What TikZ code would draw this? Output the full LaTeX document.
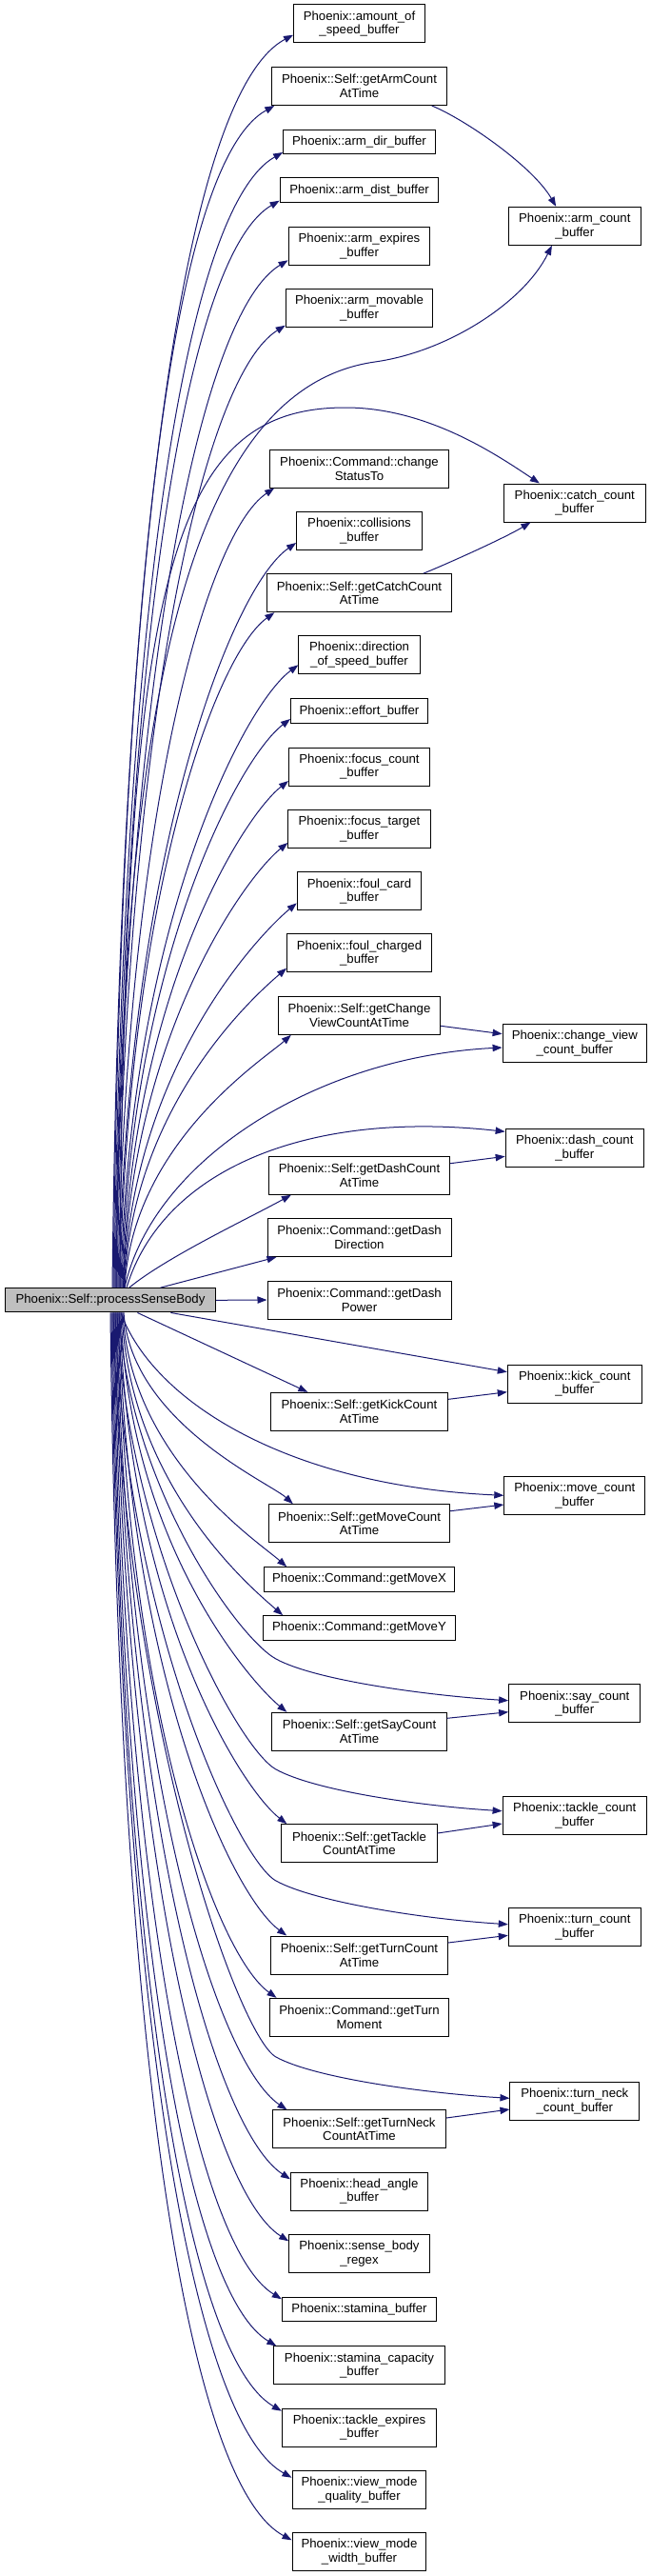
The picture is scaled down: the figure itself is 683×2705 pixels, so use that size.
\documentclass[tikz,border=0pt]{standalone}
\usepackage{fontspec}
\setmainfont{Liberation Sans}
\usetikzlibrary{arrows.meta,calc}
\definecolor{edgeblue}{HTML}{191970}
\definecolor{mainfill}{HTML}{BFBFBF}
\newcommand\mknode[6]{\node[box, minimum width={#4*0.75pt}, text width={(#4-4)*0.75pt}, minimum height={#5*0.75pt}] (#1) at (#2,#3) {#6};}
\newcommand\upE[3]{%
  \path #2 coordinate (tgt);
  \path ($(main.north)+(#1,0)$) coordinate (src);
  \draw[edge] (src) .. controls ($(src)+(8,{-0.57*#3})$) and ($(tgt)+({-(0.09*#3+15)*cos(45-0.012918*#3)},{(0.09*#3+15)*sin(45-0.012918*#3)})$) .. (tgt);}
\newcommand\downE[3]{%
  \path #2 coordinate (tgt);
  \path ($(main.south)+(#1,0)$) coordinate (src);
  \draw[edge] (src) .. controls ($(src)+(8,{0.57*#3})$) and ($(tgt)+({-(0.09*#3+15)*cos(45-0.012918*#3)},{-(0.09*#3+15)*sin(45-0.012918*#3)})$) .. (tgt);}
\begin{document}
\begin{tikzpicture}[x=0.75pt,y=-0.75pt,
  box/.style={draw=black, line width=0.75pt, fill=white, rectangle, inner sep=0pt, align=center, font=\fontsize{9.9pt}{11pt}\selectfont},
  edge/.style={draw=edgeblue, line width=0.75pt, -{Triangle[length=7.5pt,width=5.5pt]}}]
\useasboundingbox (0,0) rectangle (683,2705);
\node[box, fill=mainfill, minimum width={221.4*0.75pt}, minimum height={25.3*0.75pt}] (main) at (116,1365.3) {Phoenix::Self::processSenseBody};
\mknode{n1}{377.5}{25}{137.9}{40}{Phoenix::amount\_of\\\_speed\_buffer}
\mknode{n2}{377.5}{90.5}{183.3}{40}{Phoenix::Self::getArmCount\\AtTime}
\mknode{n3}{377.5}{149.2}{159.7}{25.5}{Phoenix::arm\_dir\_buffer}
\mknode{n4}{377.5}{199.7}{166.7}{25.5}{Phoenix::arm\_dist\_buffer}
\mknode{n5}{377.5}{258.5}{148.8}{40}{Phoenix::arm\_expires\\\_buffer}
\mknode{n6}{377.5}{323.7}{154.5}{40}{Phoenix::arm\_movable\\\_buffer}
\mknode{n7}{377.5}{492}{187.7}{40}{Phoenix::Command::change\\StatusTo}
\mknode{n8}{377.5}{557.2}{131.7}{40}{Phoenix::collisions\\\_buffer}
\mknode{n9}{377.5}{622.7}{194.7}{40}{Phoenix::Self::getCatchCount\\AtTime}
\mknode{n10}{377.5}{687.9}{127.3}{40}{Phoenix::direction\\\_of\_speed\_buffer}
\mknode{n11}{377.5}{746.7}{144}{25.5}{Phoenix::effort\_buffer}
\mknode{n12}{377.5}{805}{147.9}{40}{Phoenix::focus\_count\\\_buffer}
\mknode{n13}{377.5}{870.7}{149.3}{40}{Phoenix::focus\_target\\\_buffer}
\mknode{n14}{377.5}{935.9}{130.5}{40}{Phoenix::foul\_card\\\_buffer}
\mknode{n15}{377.5}{1000.9}{151.9}{40}{Phoenix::foul\_charged\\\_buffer}
\mknode{n16}{377.5}{1066.3}{170.3}{40}{Phoenix::Self::getChange\\ViewCountAtTime}
\mknode{n17}{377.5}{1234.3}{190.3}{40}{Phoenix::Self::getDashCount\\AtTime}
\mknode{n18}{377.5}{1299.5}{193}{40}{Phoenix::Command::getDash\\Direction}
\mknode{n19}{377.5}{1365}{193}{40}{Phoenix::Command::getDash\\Power}
\mknode{n20}{377.5}{1482.3}{186.4}{40}{Phoenix::Self::getKickCount\\AtTime}
\mknode{n21}{377.5}{1599.7}{190.3}{40}{Phoenix::Self::getMoveCount\\AtTime}
\mknode{n22}{377.5}{1658.5}{199.6}{25.5}{Phoenix::Command::getMoveX}
\mknode{n23}{377.5}{1709.4}{202.7}{25.5}{Phoenix::Command::getMoveY}
\mknode{n24}{377.5}{1818.3}{183.3}{40}{Phoenix::Self::getSayCount\\AtTime}
\mknode{n25}{377.5}{1935.7}{163.3}{40}{Phoenix::Self::getTackle\\CountAtTime}
\mknode{n26}{377.5}{2053}{185.6}{40}{Phoenix::Self::getTurnCount\\AtTime}
\mknode{n27}{377.5}{2118.3}{187.7}{40}{Phoenix::Command::getTurn\\Moment}
\mknode{n28}{377.5}{2235.9}{181.6}{40}{Phoenix::Self::getTurnNeck\\CountAtTime}
\mknode{n29}{377.5}{2301}{144}{40}{Phoenix::head\_angle\\\_buffer}
\mknode{n30}{377.5}{2366.3}{147.5}{40}{Phoenix::sense\_body\\\_regex}
\mknode{n31}{377.5}{2425.2}{162.3}{25.5}{Phoenix::stamina\_buffer}
\mknode{n32}{377.5}{2483.9}{180.3}{40}{Phoenix::stamina\_capacity\\\_buffer}
\mknode{n33}{377.5}{2549}{162.3}{40}{Phoenix::tackle\_expires\\\_buffer}
\mknode{n34}{377.5}{2614.4}{140.9}{40}{Phoenix::view\_mode\\\_quality\_buffer}
\mknode{n35}{377.5}{2679.7}{140.9}{40}{Phoenix::view\_mode\\\_width\_buffer}
\mknode{r1}{603.8}{237.3}{138.7}{40}{Phoenix::arm\_count\\\_buffer}
\mknode{r2}{603.8}{528}{148.8}{40}{Phoenix::catch\_count\\\_buffer}
\mknode{r3}{603.8}{1095.7}{151.4}{40}{Phoenix::change\_view\\\_count\_buffer}
\mknode{r4}{603.8}{1205.2}{145.3}{40}{Phoenix::dash\_count\\\_buffer}
\mknode{r5}{603.8}{1453}{141}{40}{Phoenix::kick\_count\\\_buffer}
\mknode{r6}{603.8}{1570.3}{148}{40}{Phoenix::move\_count\\\_buffer}
\mknode{r7}{603.8}{1788.9}{138.3}{40}{Phoenix::say\_count\\\_buffer}
\mknode{r8}{603.8}{1906.3}{151.4}{40}{Phoenix::tackle\_count\\\_buffer}
\mknode{r9}{603.8}{2023.5}{139}{40}{Phoenix::turn\_count\\\_buffer}
\mknode{r10}{603.8}{2206.7}{135.7}{40}{Phoenix::turn\_neck\\\_count\_buffer}
% upper fan
\upE{2}{($(n1.west)+(0,11.7)$)}{1316}
\upE{3}{($(n2.south west)+(3,0)$)}{1241}
\upE{4}{($(n3.west)+(0,10.8)$)}{1193}
\upE{5}{($(n4.west)+(0,11)$)}{1141}
\upE{6}{($(n5.west)+(0,14.8)$)}{1080}
\upE{7}{($(n6.west)+(0,18)$)}{1010}
\upE{8}{($(n7.south west)+(5,0)$)}{841}
\upE{9}{($(n8.west)+(0,12.8)$)}{783}
\upE{10}{($(n9.south west)+(8.7,0)$)}{710}
\upE{11}{($(n10.west)+(0,10.4)$)}{654}
\upE{12}{($(n11.west)+(0,8.3)$)}{598}
\upE{13}{($(n12.west)+(0,15)$)}{533}
\upE{13.5}{($(n13.west)+(0,14.3)$)}{468}
\upE{14}{($(n14.west)+(0,12.4)$)}{405}
\upE{14.5}{($(n15.west)+(0,15.8)$)}{336}
\upE{15}{($(n16.south west)+(14,0)$)}{266}
% lower fan
\downE{14}{($(n21.north west)+(26,0)$)}{202}
\downE{13}{($(n22.north west)+(24,0)$)}{268}
\downE{12}{($(n23.north west)+(21.5,0)$)}{319}
\downE{11}{($(n24.north west)+(16,0)$)}{420}
\downE{10}{($(n25.north west)+(6,0)$)}{538}
\downE{9}{($(n26.north west)+(17,0)$)}{655}
\downE{8}{($(n27.north west)+(7.4,0)$)}{720}
\downE{7}{($(n28.north west)+(15.3,0)$)}{838}
\downE{6}{($(n29.west)+(0,-12.7)$)}{910}
\downE{5}{($(n30.west)+(0,-13)$)}{975}
\downE{4}{($(n31.west)+(0,-11)$)}{1035}
\downE{3}{($(n32.north west)+(3.5,0)$)}{1086}
\downE{2}{($(n33.west)+(0,-17.3)$)}{1154}
\downE{1}{($(n34.west)+(0,-12.7)$)}{1224}
\downE{0}{($(n35.west)+(0,-12.4)$)}{1289}
% special edges from main
\draw[edge] (main.east) -- (n19.west);
\draw[edge] ($(main.north)+(52.5,0)$) -- ($(n18.south west)+(10,0)$);
\draw[edge] ($(main.north)+(19.7,0)$) .. controls (175,1320) and (260,1280) .. ($(n17.south west)+(24,0)$);
\draw[edge] ($(main.south)+(28.4,0)$) -- ($(n20.north west)+(39.6,0)$);
\draw[edge] ($(main.south)+(63.4,0)$) -- ($(r5.west)+(0,-12.3)$);
\draw[edge] ($(main.north)+(6,0)$) .. controls (127,800) and (180,410) .. (394,380) .. controls (470,369.3) and (550,318) .. ($(r1.south)+(-23.9,0)$);
\draw[edge] ($(main.north)+(10,0)$) .. controls (130,600) and (180,428) .. (363,428) .. controls (450,428) and (524,479) .. ($(r2.north west)+(38,0)$);
\draw[edge] ($(main.north)+(15,0)$) .. controls (160,1220) and (330,1110) .. ($(r3.west)+(0,4.3)$);
\draw[edge] ($(main.north)+(17,0)$) .. controls (170,1230) and (320,1165) .. ($(r4.west)+(0,-16.9)$);
\draw[edge] ($(main.south)+(11,0)$) .. controls (160,1470) and (300,1560) .. (r6.west);
\draw[edge] ($(main.south)+(9,0)$) .. controls (135,1560) and (250,1720) .. (290,1742) .. controls (330,1764) and (445,1780) .. ($(r7.west)+(0,-3.2)$);
\draw[edge] ($(main.south)+(7,0)$) .. controls (133,1620) and (250,1836) .. (290,1858) .. controls (330,1880) and (438,1896) .. ($(r8.west)+(0,-4.6)$);
\draw[edge] ($(main.south)+(5,0)$) .. controls (131,1700) and (250,1953) .. (290,1975) .. controls (330,1997) and (444,2015) .. ($(r9.west)+(0,-2.8)$);
\draw[edge] ($(main.south)+(3,0)$) .. controls (129,1800) and (250,2138) .. (290,2160) .. controls (330,2182) and (446,2198) .. ($(r10.west)+(0,-3.4)$);
% middle to right
\draw[edge] ($(n2.south east)+(-16,0)$) .. controls (490,126) and (560,175) .. ($(r1.north)+(-19.6,0)$);
\draw[edge] ($(n9.north east)+(-30.6,0)$) .. controls (470,592) and (530,565) .. ($(r2.south west)+(28.6,0)$);
\draw[edge] ($(n16.east)+(0,11)$) -- ($(r3.west)+(0,-10)$);
\draw[edge] ($(n17.east)+(0,-12.6)$) -- ($(r4.west)+(0,9.1)$);
\draw[edge] ($(n20.east)+(0,-13)$) -- ($(r5.west)+(0,8.7)$);
\draw[edge] ($(n21.east)+(0,-13)$) -- ($(r6.west)+(0,9.7)$);
\draw[edge] ($(n24.east)+(0,-14)$) -- ($(r7.west)+(0,8.8)$);
\draw[edge] ($(n25.east)+(0,-10.7)$) -- ($(r8.west)+(0,8.7)$);
\draw[edge] ($(n26.east)+(0,-13)$) -- ($(r9.west)+(0,8.8)$);
\draw[edge] ($(n28.east)+(0,-11.9)$) -- ($(r10.west)+(0,8.3)$);
\end{tikzpicture}
\end{document}
